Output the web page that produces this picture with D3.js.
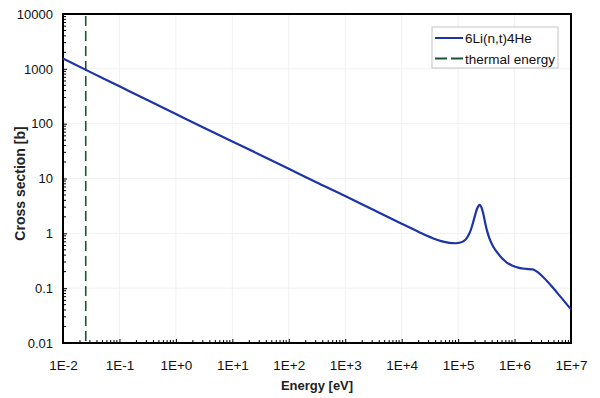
<!DOCTYPE html>
<html>
<head>
<meta charset="utf-8">
<script src="https://cdn.jsdelivr.net/npm/d3@7"></script>
<style>
  html, body { margin: 0; padding: 0; background: #fff; }
  svg { display: block; font-family: "Liberation Sans", Arial, sans-serif; }
</style>
</head>
<body>
<svg id="chart" width="600" height="398"></svg>
<script>
// 6Li(n,t)4He cross section vs neutron energy
const energy = [0.01, 0.03, 0.1, 0.3, 1, 3, 10, 30, 100, 300, 1e3, 3e3, 1e4, 2e4, 3.5e4, 5e4, 7e4, 9e4, 1.1e5, 1.25e5, 1.4e5, 1.55e5, 1.7e5, 1.85e5, 2.0e5, 2.15e5, 2.3e5, 2.4e5, 2.6e5, 2.8e5, 3.0e5, 3.25e5, 3.6e5, 4.2e5, 5e5, 6e5, 7.4e5, 9e5, 1.2e6, 1.6e6, 2.1e6, 2.5e6, 3.2e6, 4.5e6, 6.5e6, 1e7];
const sigma  = [1550, 880, 480, 275, 150, 86, 47.5, 27.5, 15, 8.6, 4.8, 2.75, 1.5, 1.06, 0.82, 0.72, 0.67, 0.66, 0.68, 0.72, 0.8, 0.95, 1.2, 1.6, 2.15, 2.75, 3.15, 3.3, 2.95, 2.25, 1.6, 1.12, 0.8, 0.57, 0.44, 0.35, 0.29, 0.26, 0.235, 0.225, 0.22, 0.2, 0.16, 0.11, 0.07, 0.041];
const thermalEnergy = 0.0253;

const xTickValues = [1e-2, 1e-1, 1e0, 1e1, 1e2, 1e3, 1e4, 1e5, 1e6, 1e7];
const xTickLabels = ["1E-2", "1E-1", "1E+0", "1E+1", "1E+2", "1E+3", "1E+4", "1E+5", "1E+6", "1E+7"];
const yTickValues = [0.01, 0.1, 1, 10, 100, 1000, 10000];
const yTickLabels = ["0.01", "0.1", "1", "10", "100", "1000", "10000"];
const legendLabels = ["6Li(n,t)4He", "thermal energy"];

const curveColor = "#1c34a8";
const thermalColor = "#1e5530";

const svg = d3.select("#chart");
const margin = { left: 63, right: 29, top: 14, bottom: 55 };
const W = 600, H = 398;
const x = d3.scaleLog().domain([1e-2, 1e7]).range([margin.left, W - margin.right]);
const y = d3.scaleLog().domain([0.01, 10000]).range([H - margin.bottom, margin.top]);

// faint decade grid
const grid = svg.append("g").attr("stroke", "#f1f1f1").attr("stroke-width", 1);
xTickValues.slice(1, -1).forEach(v => grid.append("line")
  .attr("x1", x(v)).attr("x2", x(v)).attr("y1", y(0.01)).attr("y2", y(10000)));
yTickValues.slice(1, -1).forEach(v => grid.append("line")
  .attr("x1", x(1e-2)).attr("x2", x(1e7)).attr("y1", y(v)).attr("y2", y(v)));

// minor ticks for each decade (2..9)
function minorTicks(lo, hi) {
  const out = [];
  for (let d = lo; d < hi; d++) for (let k = 2; k <= 9; k++) out.push(k * Math.pow(10, d));
  return out;
}

// x axis (ticks pointing into the plot)
const xAxis = d3.axisBottom(x).tickValues(xTickValues)
  .tickFormat((d, i) => xTickLabels[i]).tickSizeInner(-4).tickSizeOuter(0).tickPadding(17);
const gx = svg.append("g").attr("transform", `translate(0,${y(0.01)})`).call(xAxis);
gx.selectAll("text").attr("font-size", 13.5).attr("fill", "#111");
gx.select(".domain").remove();
gx.append("g").selectAll("line").data(minorTicks(-2, 7)).join("line")
  .attr("x1", d => x(d)).attr("x2", d => x(d)).attr("y1", 0).attr("y2", -3)
  .attr("stroke", "#000");

// y axis
const yAxis = d3.axisLeft(y).tickValues(yTickValues)
  .tickFormat((d, i) => yTickLabels[i]).tickSizeInner(-4).tickSizeOuter(0).tickPadding(10);
const gy = svg.append("g").attr("transform", `translate(${x(1e-2)},0)`).call(yAxis);
gy.selectAll("text").attr("font-size", 13).attr("fill", "#111");
gy.select(".domain").remove();
gy.append("g").selectAll("line").data(minorTicks(-2, 4)).join("line")
  .attr("x1", 0).attr("x2", 3).attr("y1", d => y(d)).attr("y2", d => y(d))
  .attr("stroke", "#000");

// plot frame
svg.append("rect")
  .attr("x", x(1e-2)).attr("y", y(10000))
  .attr("width", x(1e7) - x(1e-2)).attr("height", y(0.01) - y(10000))
  .attr("fill", "none").attr("stroke", "#000").attr("stroke-width", 2);

// thermal energy marker
svg.append("line")
  .attr("x1", x(thermalEnergy)).attr("x2", x(thermalEnergy))
  .attr("y1", y(10000) + 2).attr("y2", y(0.01) - 1)
  .attr("stroke", thermalColor).attr("stroke-width", 1.6)
  .attr("stroke-dasharray", "10,5");

// cross-section curve
const data = energy.map((e, i) => [e, sigma[i]]);
svg.append("path").datum(data)
  .attr("d", d3.line().x(d => x(d[0])).y(d => y(d[1])).curve(d3.curveMonotoneX))
  .attr("fill", "none").attr("stroke", curveColor).attr("stroke-width", 2.2)
  .attr("stroke-linejoin", "round");

// axis titles
svg.append("text").attr("x", (x(1e-2) + x(1e7)) / 2).attr("y", 390)
  .attr("text-anchor", "middle").attr("font-size", 13).attr("font-weight", "bold")
  .attr("fill", "#222").text("Energy [eV]");
svg.append("text").attr("transform", `translate(25,183.5) rotate(-90)`)
  .attr("text-anchor", "middle").attr("font-size", 14).attr("font-weight", "bold")
  .attr("fill", "#222").text("Cross section [b]");

// legend
const lg = svg.append("g");
lg.append("rect").attr("x", 432).attr("y", 27).attr("width", 126).attr("height", 41)
  .attr("fill", "#fff").attr("stroke", "#c4c4c4").attr("stroke-width", 1);
lg.append("line").attr("x1", 435).attr("x2", 463).attr("y1", 38).attr("y2", 38)
  .attr("stroke", curveColor).attr("stroke-width", 2);
lg.append("line").attr("x1", 435).attr("x2", 463).attr("y1", 58.5).attr("y2", 58.5)
  .attr("stroke", thermalColor).attr("stroke-width", 2).attr("stroke-dasharray", "12,4");
legendLabels.forEach((t, i) => lg.append("text")
  .attr("x", 465).attr("y", 43 + i * 20.5).attr("font-size", 13.5).attr("fill", "#111").text(t));
</script>
</body>
</html>
